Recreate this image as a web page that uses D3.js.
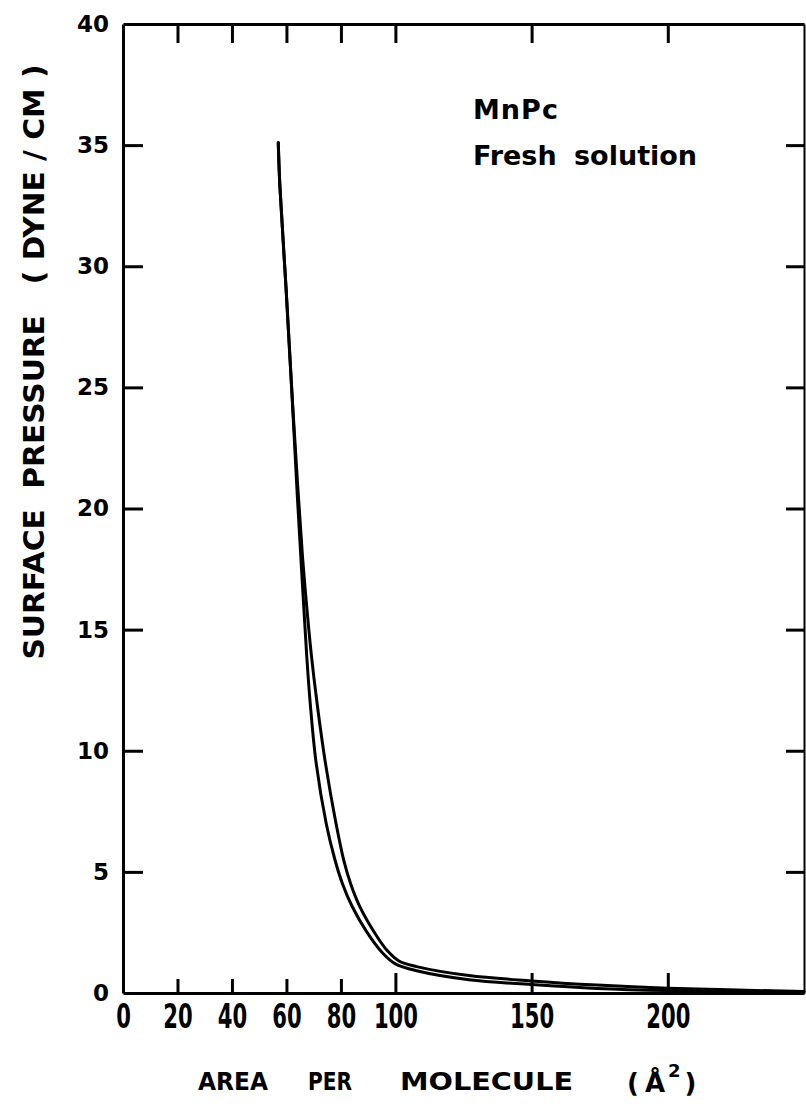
<!DOCTYPE html>
<html>
<head>
<meta charset="utf-8">
<script src="https://cdn.jsdelivr.net/npm/d3@7"></script>
<style>
  html, body { margin: 0; padding: 0; background: #fff; }
  svg { display: block; }
  text { font-family: "DejaVu Sans", sans-serif; fill: #000; }
</style>
</head>
<body>
<svg id="chart" width="806" height="1112"></svg>
<script>
// ---- data ----
const xTickValues = [0, 20, 40, 60, 80, 100, 150, 200];
const xTopTicks = [20, 40, 60, 80, 100, 150, 200];
const yTickValues = [0, 5, 10, 15, 20, 25, 30, 35, 40];
const yRightTicks = [5, 10, 15, 20, 25, 30, 35];

// curve 1 (lower / left branch)
const area1 = [57.0, 57.6, 59.8, 61.9, 64.0, 65.9, 67.4, 68.7, 70.9, 74.6, 77.8, 80.6, 84.0, 89.6, 95.3, 100.0, 107.8, 127, 150, 174, 200, 250];
const press1 = [35.1, 33.3, 29.2, 25.0, 20.5, 16.8, 14.0, 12.0, 9.5, 7.0, 5.5, 4.5, 3.6, 2.5, 1.65, 1.2, 0.92, 0.55, 0.35, 0.19, 0.10, 0.03];
// curve 2 (upper / right branch)
const area2 = [57.0, 57.6, 59.8, 61.9, 64.1, 65.9, 67.4, 69.1, 71.2, 74.3, 78.2, 81.0, 83.6, 86.8, 92.3, 97.0, 101.3, 107.8, 127, 150, 174, 200, 250];
const press2 = [35.1, 33.3, 29.2, 25.0, 21.0, 18.0, 16.0, 14.0, 12.0, 9.5, 7.0, 5.5, 4.5, 3.6, 2.5, 1.75, 1.32, 1.09, 0.72, 0.50, 0.33, 0.20, 0.06];

const annotation1 = "MnPc";
const annotation2 = "Fresh solution";
const yTitle = "SURFACE  PRESSURE   ( DYNE / CM )";

// ---- layout ----
const svg = d3.select("#chart");
const mLeft = 123, mRight = 804, mTop = 24, mBottom = 993;

const x = d3.scaleLinear().domain([0, 250]).range([mLeft, mRight]);
const y = d3.scaleLinear().domain([0, 40]).range([mBottom, mTop]);

svg.append("rect").attr("width", 806).attr("height", 1112).attr("fill", "#fff");

// bottom axis
const gB = svg.append("g").attr("transform", `translate(0,${mBottom})`)
  .call(d3.axisBottom(x).tickValues(xTickValues).tickSizeInner(-14).tickSizeOuter(0).tickPadding(12));
gB.selectAll(".tick line").attr("y2", d => d === 0 ? 0 : (d >= 100 ? -20 : -14));
gB.selectAll(".tick text")
  .attr("font-size", 33).attr("font-weight", "bold")
  .attr("transform", "scale(0.64,1)");

// top axis
const gT = svg.append("g").attr("transform", `translate(0,${mTop})`)
  .call(d3.axisTop(x).tickValues(xTopTicks).tickSizeInner(-19).tickSizeOuter(0).tickFormat(""));

// left axis
const gL = svg.append("g").attr("transform", `translate(${mLeft},0)`)
  .call(d3.axisLeft(y).tickValues(yTickValues).tickSizeInner(-20).tickSizeOuter(0).tickPadding(14));
gL.selectAll(".tick line").attr("x2", d => (d === 0 || d === 40) ? 0 : 20);
gL.selectAll(".tick text").attr("font-size", 23).attr("font-weight", "bold");

// right axis
const gR = svg.append("g").attr("transform", `translate(${mRight},0)`)
  .call(d3.axisRight(y).tickValues(yRightTicks).tickSizeInner(-18).tickSizeOuter(0).tickFormat(""));

[gB, gT, gL].forEach(g => {
  g.select(".domain").attr("stroke", "#000").attr("stroke-width", 3);
  g.selectAll(".tick line").attr("stroke", "#000").attr("stroke-width", 3);
});
gR.select(".domain").attr("stroke", "#000").attr("stroke-width", 2);
gR.selectAll(".tick line").attr("stroke", "#000").attr("stroke-width", 3);

// curves
const line = d3.line().x(d => x(d[0])).y(d => y(d[1])).curve(d3.curveCatmullRom.alpha(0.5));
const c1 = area1.map((a, i) => [a, press1[i]]);
const c2 = area2.map((a, i) => [a, press2[i]]);
[c1, c2].forEach(c => {
  svg.append("path").datum(c).attr("d", line)
    .attr("fill", "none").attr("stroke", "#000").attr("stroke-width", 3)
    .attr("stroke-linejoin", "round").attr("stroke-linecap", "round");
});

// annotation
svg.append("text").attr("x", 473).attr("y", 119).attr("font-size", 27).attr("font-weight", "bold")
  .attr("letter-spacing", 1).text(annotation1);
svg.append("text").attr("x", 473).attr("y", 165).attr("font-size", 27).attr("font-weight", "bold")
  .attr("word-spacing", 8).text(annotation2);

// y title
svg.append("text")
  .attr("transform", "translate(44,362) rotate(-90)")
  .attr("text-anchor", "middle")
  .attr("font-size", 29).attr("font-weight", "bold")
  .attr("textLength", 595).attr("lengthAdjust", "spacingAndGlyphs")
  .style("white-space", "pre")
  .text(yTitle);

// x title
const xt = [["AREA", 198, 70], ["PER", 308, 44], ["MOLECULE", 400, 173]];
xt.forEach(([t, px, w]) => {
  svg.append("text").attr("x", px).attr("y", 1090).attr("font-size", 24).attr("font-weight", "bold")
    .attr("textLength", w).attr("lengthAdjust", "spacingAndGlyphs").text(t);
});
const unit = svg.append("text").attr("x", 627).attr("y", 1092).attr("font-size", 26).attr("font-weight", "bold");
unit.append("tspan").text("(");
unit.append("tspan").attr("dx", 6).text("Å");
unit.append("tspan").attr("dy", -15).attr("dx", 3).attr("font-size", 18).text("2");
unit.append("tspan").attr("dy", 15).attr("dx", 4).text(")");
</script>
</body>
</html>
